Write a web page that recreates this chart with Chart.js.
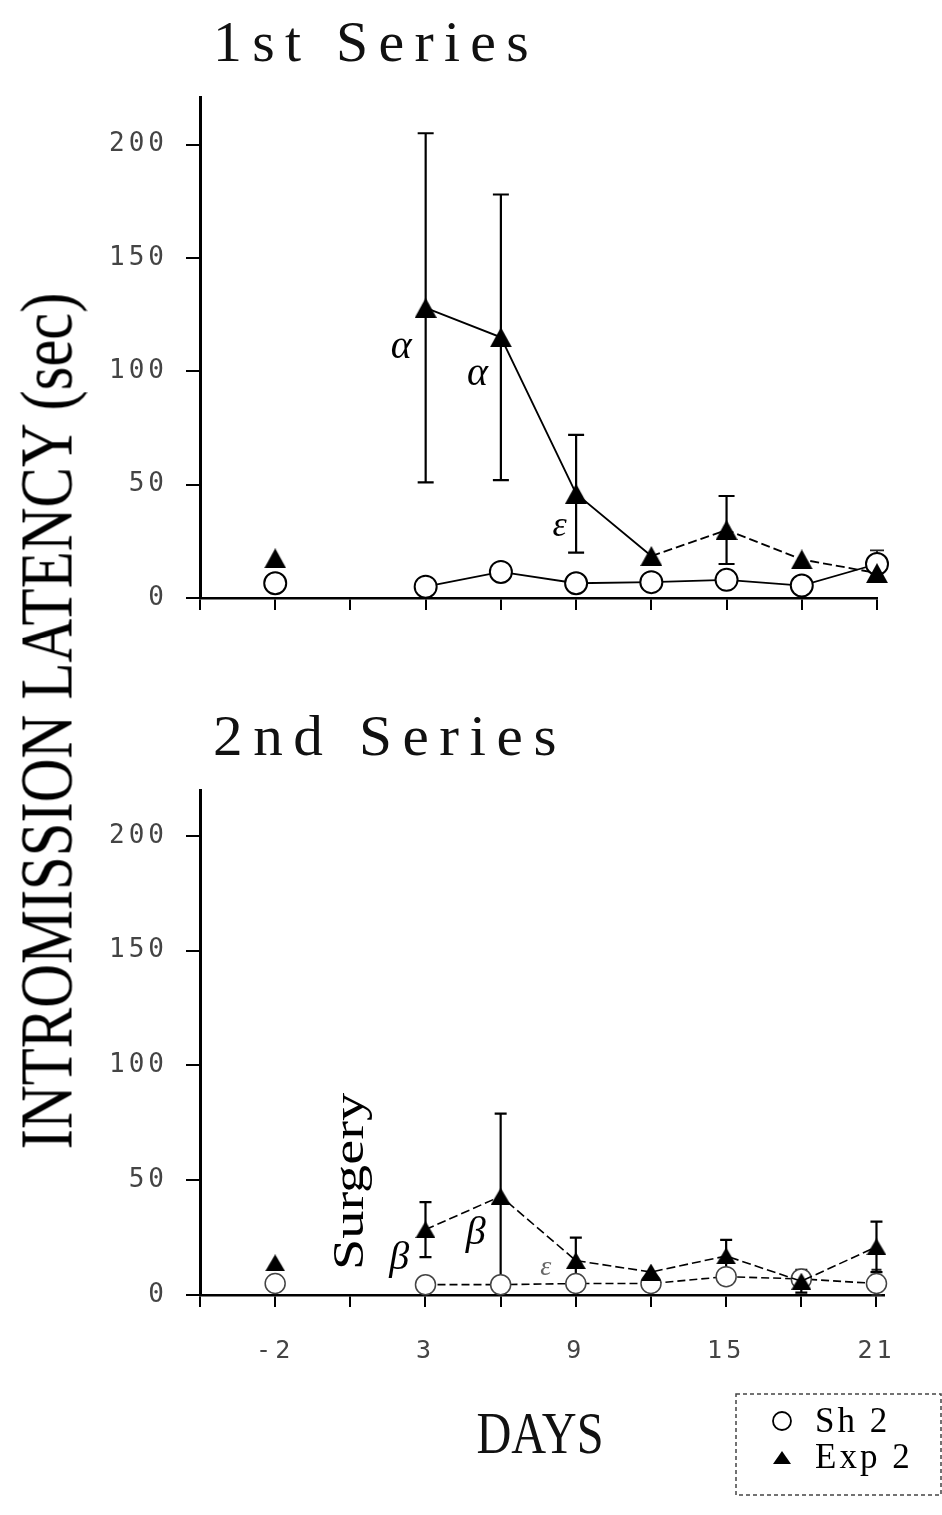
<!DOCTYPE html>
<html>
<head>
<meta charset="utf-8">
<script src="https://cdn.jsdelivr.net/npm/chart.js@4.4.1/dist/chart.umd.min.js"></script>
<style>
  body { margin: 0; background: #fff; width: 942px; height: 1515px; position: relative; overflow: hidden; }
  canvas { position: absolute; left: 0; }
  #top { top: 0; }
  #bottom { top: 700px; }
  #ylab {
    position: absolute; left: 46px; top: 721px;
    font-family: "Liberation Serif"; font-size: 75px; line-height: 1;
    white-space: nowrap; color: #000;
  }
</style>
</head>
<body>
<canvas id="top" width="942" height="700"></canvas>
<canvas id="bottom" width="942" height="815"></canvas>
<div id="ylab">INTROMISSION LATENCY (sec)</div>
<script>
// x positions: one slot per category, the empty ones are the axis start and surgery
const dayCats = ['', '-2', '', '3', '6', '9', '12', '15', '18', '21'];
const shownDays = ['-2', '3', '9', '15', '21'];
const yTicks = [0, 50, 100, 150, 200];
const days = ['-2', '3', '6', '9', '12', '15', '18', '21'];

// 1st series
const sh1 = [6.5, 5, 11.5, 6.5, 7, 8, 5.5, 15];
const sh1Err = [0, 0, 0, 0, 0, 0, 0, 6];
const exp1 = [17.5, 128, 115, 46, 18.5, 30, 17, 11];
const exp1Err = [0, 77, 63, 26, 0, 15, 0, 0];

// 2nd series
const sh2 = [5, 4.5, 4.5, 5, 5, 8, 7, 5];
const sh2Err = [0, 0, 0, 0, 0, 0, 0, 6];
const exp2 = [14, 28.5, 43, 15, 10, 17, 6, 21];
const exp2Err = [0, 12, 36, 10, 0, 7, 5, 11];

function pts(vals) {
  return days.map((d, i) => ({ x: dayCats.indexOf(d), y: vals[i] }));
}

function triangle(w, h) {
  const c = document.createElement('canvas');
  c.width = w; c.height = h;
  const g = c.getContext('2d');
  g.fillStyle = '#000';
  g.beginPath();
  g.moveTo(w / 2, 0); g.lineTo(w, h); g.lineTo(0, h);
  g.closePath(); g.fill();
  return c;
}

// no line across the surgery gap
const skipGap = ctx => ctx.p0DataIndex === 0 ? 'rgba(0,0,0,0)' : undefined;

// wider tick digits, like the typewriter numbers of the figure
const tickSpacing = {
  id: 'tickSpacing',
  beforeDraw(chart) { chart.ctx.letterSpacing = '4px'; },
  afterDraw(chart) { chart.ctx.letterSpacing = '0px'; }
};

const errorBars = {
  id: 'errorBars',
  beforeDatasetsDraw(chart) {
    const { ctx, scales: { x, y } } = chart;
    chart.data.datasets.forEach(ds => {
      if (!ds.errorBars) return;
      ctx.save();
      ctx.strokeStyle = ds.errColor;
      ctx.lineWidth = ds.errWidth;
      ds.data.forEach((p, j) => {
        const e = ds.errorBars[j];
        if (!e) return;
        const px = x.getPixelForValue(p.x);
        const t = y.getPixelForValue(p.y + e);
        const b = y.getPixelForValue(Math.max(p.y - e, 0));
        const c = ds.errCap;
        ctx.beginPath();
        ctx.moveTo(px, t); ctx.lineTo(px, b);
        ctx.moveTo(px - c, t); ctx.lineTo(px + c, t);
        ctx.moveTo(px - c, b); ctx.lineTo(px + c, b);
        ctx.stroke();
      });
      ctx.restore();
    });
  }
};

const notes = {
  id: 'notes',
  afterDatasetsDraw(chart, args, opts) {
    const { ctx, scales: { x, y } } = chart;
    (opts.items || []).forEach(n => {
      const px = n.px !== undefined ? n.px : x.getPixelForValue(n.x);
      const py = n.py !== undefined ? n.py : y.getPixelForValue(n.y);
      ctx.save();
      ctx.font = n.font;
      ctx.letterSpacing = n.spacing || '0px';
      let sx = n.sx || 1;
      if (n.width) sx = n.width / ctx.measureText(n.text).width;
      ctx.translate(px, py);
      if (n.rotate) ctx.rotate(n.rotate);
      ctx.scale(sx, n.sy || 1);
      ctx.fillStyle = n.color || '#000';
      ctx.textAlign = n.align || 'center';
      ctx.textBaseline = n.baseline || 'middle';
      ctx.fillText(n.text, 0, 0);
      ctx.restore();
    });
  }
};

const boxLegend = {
  id: 'boxLegend',
  afterDraw(chart, args, opts) {
    if (!opts.box) return;
    const { ctx } = chart;
    const b = opts.box;
    ctx.save();
    ctx.strokeStyle = '#444';
    ctx.lineWidth = 1.5;
    ctx.setLineDash([4, 3]);
    ctx.strokeRect(b.left, b.top, b.width, b.height);
    ctx.setLineDash([]);
    opts.entries.forEach(en => {
      const ds = chart.data.datasets[en.dataset];
      if (en.shape === 'circle') {
        ctx.beginPath();
        ctx.arc(en.mx, en.my, 9, 0, Math.PI * 2);
        ctx.fillStyle = '#fff'; ctx.fill();
        ctx.lineWidth = 1.8; ctx.strokeStyle = '#000'; ctx.stroke();
      } else {
        const img = triangle(18, 13);
        ctx.drawImage(img, en.mx - 9, en.my - 6);
      }
      ctx.font = '35px "Liberation Serif"';
      ctx.letterSpacing = '3px';
      ctx.fillStyle = '#000';
      ctx.textAlign = 'left';
      ctx.textBaseline = 'alphabetic';
      ctx.fillText(ds.label, en.tx, en.ty);
    });
    ctx.restore();
  }
};

function makeChart(id, cfg) {
  return new Chart(document.getElementById(id), {
    type: 'line',
    data: {
      datasets: [
        {
          label: 'Sh 2', data: pts(cfg.sh), errorBars: cfg.shErr, order: 1,
          borderColor: '#000', borderWidth: cfg.lineW, borderDash: cfg.shDash,
          pointStyle: 'circle', pointRadius: cfg.circleR,
          pointBackgroundColor: '#fff', pointBorderColor: cfg.circleColor, pointBorderWidth: cfg.circleW,
          errColor: '#222', errWidth: 1.8, errCap: cfg.cap - 1,
          segment: { borderColor: skipGap },
          clip: false, tension: 0
        },
        {
          label: 'Exp 2', data: pts(cfg.exp), errorBars: cfg.expErr, order: 0,
          borderColor: '#000', borderWidth: cfg.lineW, borderDash: cfg.expDash,
          pointStyle: triangle(cfg.triW, cfg.triH), pointRadius: 10,
          errColor: '#000', errWidth: 2.2, errCap: cfg.cap,
          segment: { borderColor: skipGap, borderDash: cfg.expSegDash },
          clip: false, tension: 0
        }
      ]
    },
    options: {
      responsive: false,
      animation: false,
      devicePixelRatio: 1,
      events: [],
      layout: { padding: { top: cfg.padTop, right: cfg.padRight, bottom: 0, left: 0 } },
      plugins: {
        legend: { display: false },
        tooltip: { enabled: false },
        notes: { items: cfg.notes },
        boxLegend: cfg.legend || {}
      },
      scales: {
        x: {
          type: 'linear', min: 0, max: cfg.xMax,
          afterFit: s => { s.height = cfg.xHeight; },
          afterBuildTicks: s => { s.ticks = dayCats.map((c, i) => ({ value: i })); },
          ticks: {
            display: cfg.showX, padding: 29, autoSkip: false, maxRotation: 0,
            font: { family: 'DejaVu Sans Mono', size: 25 }, color: '#444',
            callback: v => shownDays.includes(dayCats[v]) ? dayCats[v] : ''
          },
          grid: { drawOnChartArea: false, drawTicks: true, tickLength: 12, color: '#000', lineWidth: 2 },
          border: { display: true, color: '#000', width: 2.5 }
        },
        y: {
          min: 0, max: cfg.yMax,
          afterFit: s => { s.width = 200; },
          afterBuildTicks: s => { s.ticks = yTicks.map(v => ({ value: v })); },
          ticks: { padding: 18, font: { family: 'DejaVu Sans Mono', size: 26 }, color: '#444' },
          grid: { drawOnChartArea: false, tickLength: 14, color: '#000', lineWidth: 2 },
          border: { display: true, color: '#000', width: 3 }
        }
      }
    },
    plugins: [tickSpacing, errorBars, notes, boxLegend]
  });
}

const greek = 'italic 40px "Liberation Serif"';
const titleFont = '56px "Liberation Serif"';

makeChart('top', {
  sh: sh1, shErr: sh1Err, exp: exp1, expErr: exp1Err,
  padTop: 97, padRight: 65, xHeight: 102, xMax: 9, yMax: 221, showX: false,
  lineW: 1.8, shDash: [], expDash: [], expSegDash: ctx => ctx.p0DataIndex >= 4 ? [9, 4] : undefined,
  circleR: 11, circleW: 2, circleColor: '#000', triW: 22, triH: 20, cap: 8,
  notes: [
    { text: '1st Series', px: 213, py: 61, align: 'left', baseline: 'alphabetic',
      font: titleFont, spacing: '10px', width: 326, color: '#111' },
    { text: 'α', x: 2.674, y: 110.6, font: greek },
    { text: 'α', x: 3.69, y: 98.7, font: greek },
    { text: 'ε', x: 4.78, y: 31.6, font: 'italic 36px "Liberation Serif"' }
  ]
});

makeChart('bottom', {
  sh: sh2, shErr: sh2Err, exp: exp2, expErr: exp2Err,
  padTop: 90, padRight: 58, xHeight: 220, xMax: 9.1, yMax: 220, showX: true,
  lineW: 1.6, shDash: [8, 4], expDash: [9, 4], expSegDash: undefined,
  circleR: 10, circleW: 1.5, circleColor: '#444', triW: 20, triH: 17, cap: 6,
  notes: [
    { text: '2nd Series', px: 213, py: 55, align: 'left', baseline: 'alphabetic',
      font: titleFont, spacing: '10px', width: 354, color: '#111' },
    { text: 'β', x: 2.65, y: 15.7, font: greek },
    { text: 'β', x: 3.668, y: 26.9, font: greek },
    { text: 'ε', x: 4.6, y: 11.8, font: 'italic 28px "Liberation Serif"', color: '#666' },
    { text: 'Surgery', px: 363, py: 570, rotate: -Math.PI / 2, sx: 1.25, align: 'left',
      baseline: 'alphabetic', font: '45px "Liberation Serif"' },
    { text: 'DAYS', px: 540, py: 753, sx: 1.05, sy: 1.3, baseline: 'alphabetic',
      font: '46px "Liberation Serif"', color: '#111' }
  ],
  legend: {
    box: { left: 736, top: 694, width: 205, height: 101 },
    entries: [
      { dataset: 0, shape: 'circle', mx: 782, my: 721, tx: 815, ty: 732 },
      { dataset: 1, shape: 'triangle', mx: 782, my: 757, tx: 815, ty: 768 }
    ]
  }
});

// stretch the shared y label to its length in the figure
const yl = document.getElementById('ylab');
const k = 857 / yl.offsetWidth;
yl.style.transform = 'translate(-50%,-50%) rotate(-90deg) scaleX(' + k + ')';
</script>
</body>
</html>
